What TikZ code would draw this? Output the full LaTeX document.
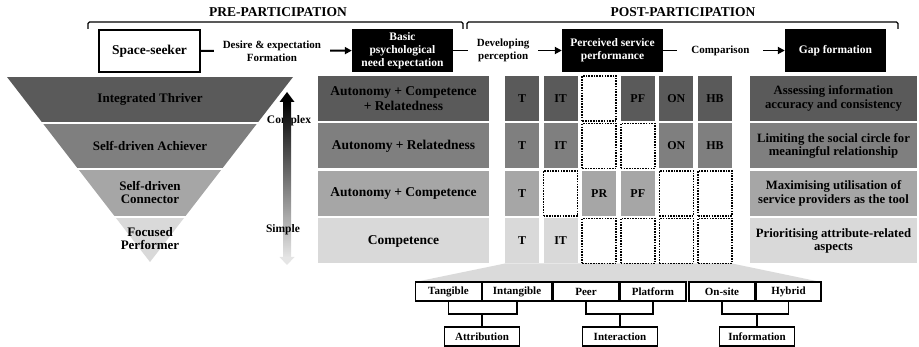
\documentclass[tikz,border=0pt]{standalone}
\usepackage{fontspec}
\setmainfont{Liberation Serif}
\usetikzlibrary{arrows.meta}
\definecolor{bandA}{HTML}{5A5A5A}
\definecolor{bandB}{HTML}{7F7F7F}
\definecolor{bandC}{HTML}{A6A6A6}
\definecolor{bandD}{HTML}{D9D9D9}
\definecolor{fanC}{HTML}{DADADA}
\begin{document}
\begin{tikzpicture}[x=1pt,y=-1pt,
  every node/.style={inner sep=0pt, align=center},
  head/.style={font=\bfseries\fontsize{13.5}{15}\selectfont},
  whitebox/.style={draw=black, line width=2pt, fill=white, minimum width=101pt, minimum height=42pt, font=\bfseries\fontsize{13.5}{15}\selectfont},
  blackbox/.style={fill=black, text=white, minimum width=101pt, minimum height=43pt, font=\bfseries\fontsize{11.5}{13}\selectfont},
  lbl/.style={fill=white, inner xsep=9pt, inner ysep=2pt, font=\bfseries\fontsize{11}{13}\selectfont},
  flow/.style={line width=1.8pt, -{Triangle[length=7pt,width=7pt]}},
  ftext/.style={font=\bfseries\fontsize{13}{13}\selectfont},
  mid/.style={minimum width=171pt, minimum height=45pt, font=\bfseries\fontsize{13.5}{15}\selectfont},
  rt/.style={minimum width=167pt, minimum height=45pt, font=\bfseries\fontsize{12.7}{13.8}\selectfont},
  cell/.style={minimum width=34pt, minimum height=45pt, font=\bfseries\fontsize{12}{13}\selectfont},
  dotcell/.style={cell, fill=white, draw=black, line width=1.6pt, dash pattern=on 1.6pt off 1.1pt},
  leaf/.style={draw=black, line width=1.3pt, fill=white, minimum height=19pt, font=\bfseries\fontsize{11}{12}\selectfont},
  tree/.style={line width=1.6pt},
  brace/.style={line width=1.3pt, rounded corners=1.5pt},
  axis/.style={font=\bfseries\fontsize{11.5}{13}\selectfont}
]
\useasboundingbox (0,0) rectangle (919,347);

% headers and brackets
\node[head] (pre) at (278,12) {PRE-PARTICIPATION};
\node[head] (post) at (683,12) {POST-PARTICIPATION};
\draw[brace] (88,29) -- (88,22) -- (463,22) -- (463,29);
\draw[brace] (467,29) -- (467,22) -- (898,22) -- (898,29);

% top process row
\node[whitebox] (ss) at (149.5,51) {Space-seeker};
\node[blackbox] (bp) at (402.5,50.5) {Basic\\psychological\\need expectation};
\node[blackbox] (ps) at (612.5,50.5) {Perceived service\\performance};
\node[blackbox] (gf) at (835.5,50.5) {Gap formation};
\draw[flow] (ss) -- node[lbl, pos=0.47] (l1) {Desire \& expectation\\Formation} (bp);
\draw[flow] (bp) -- node[lbl, pos=0.46] (l2) {Developing\\perception} (ps);
\draw[flow] (ps) -- node[lbl, pos=0.47, inner xsep=14pt] (l3) {Comparison} (gf);

% funnel
\begin{scope}
\clip (7,77) -- (293,77) -- (150,262) -- cycle;
\fill[bandA] (0,77) rectangle (300,122);
\fill[bandB] (0,124) rectangle (300,168);
\fill[bandC] (0,170) rectangle (300,216);
\fill[bandD] (0,218) rectangle (300,263);
\end{scope}
\node[ftext] (f1) at (150,99) {Integrated Thriver};
\node[ftext] (f2) at (150,146) {Self-driven Achiever};
\node[ftext] (f3) at (150,192.5) {Self-driven\\Connector};
\node[ftext] (f4) at (150,239) {Focused\\Performer};

% gradient arrow
\node[axis] (cx) at (289,121) {Complex};
\shade[top color=black, bottom color=black!10] (283,101) rectangle (291,258);
\fill[black] (287,92) -- (294.5,102) -- (279.5,102) -- cycle;
\fill[black!10] (287,265) -- (294.5,257) -- (279.5,257) -- cycle;
\node[axis] (sp) at (283,230) {Simple};

% fan under the grid
\fill[fanC] (505,263.5) -- (732,263.5) -- (821,282) -- (415,282) -- cycle;

% middle column
\node[mid, fill=bandA] (m1) at (403.5,98.5) {Autonomy + Competence\\+ Relatedness};
\node[mid, fill=bandB] (m2) at (403.5,146) {Autonomy + Relatedness};
\node[mid, fill=bandC] (m3) at (403.5,193.5) {Autonomy + Competence};
\node[mid, fill=bandD] (m4) at (403.5,241) {Competence};

% grid
\node[cell, fill=bandA] (c11) at (522,98.5) {T};
\node[cell, fill=bandA] (c12) at (560.6,98.5) {IT};
\node[dotcell] (c13) at (599.2,98.5) {};
\node[cell, fill=bandA] (c14) at (637.8,98.5) {PF};
\node[cell, fill=bandA] (c15) at (676.4,98.5) {ON};
\node[cell, fill=bandA] (c16) at (715,98.5) {HB};

\node[cell, fill=bandB] (c21) at (522,146) {T};
\node[cell, fill=bandB] (c22) at (560.6,146) {IT};
\node[dotcell] (c23) at (599.2,146) {};
\node[dotcell] (c24) at (637.8,146) {};
\node[cell, fill=bandB] (c25) at (676.4,146) {ON};
\node[cell, fill=bandB] (c26) at (715,146) {HB};

\node[cell, fill=bandC] (c31) at (522,193.5) {T};
\node[dotcell] (c32) at (560.6,193.5) {};
\node[cell, fill=bandC] (c33) at (599.2,193.5) {PR};
\node[cell, fill=bandC] (c34) at (637.8,193.5) {PF};
\node[dotcell] (c35) at (676.4,193.5) {};
\node[dotcell] (c36) at (715,193.5) {};

\node[cell, fill=bandD] (c41) at (522,241) {T};
\node[cell, fill=bandD] (c42) at (560.6,241) {IT};
\node[dotcell] (c43) at (599.2,241) {};
\node[dotcell] (c44) at (637.8,241) {};
\node[dotcell] (c45) at (676.4,241) {};
\node[dotcell] (c46) at (715,241) {};

% right column
\node[rt, fill=bandA] (g1) at (833.5,98.5) {Assessing information\\accuracy and consistency};
\node[rt, fill=bandB] (g2) at (833.5,146) {Limiting the social circle for\\meaningful relationship};
\node[rt, fill=bandC] (g3) at (833.5,193.5) {Maximising utilisation of\\service providers as the tool};
\node[rt, fill=bandD] (g4) at (833.5,241) {Prioritising attribute-related\\aspects};

% bottom tree
\node[leaf, minimum width=66pt] (tan) at (448.5,291.5) {Tangible};
\node[leaf, minimum width=69pt] (itan) at (517,291.5) {Intangible};
\node[leaf, minimum width=66pt] (peer) at (586,291.5) {Peer};
\node[leaf, minimum width=66pt] (plat) at (653,291.5) {Platform};
\node[leaf, minimum width=66pt] (onsite) at (722,291.5) {On-site};
\node[leaf, minimum width=65pt] (hyb) at (788.5,291.5) {Hybrid};

\node[leaf, minimum width=75pt] (attr) at (482,336.5) {Attribution};
\node[leaf, minimum width=75pt] (inter) at (620,336.5) {Interaction};
\node[leaf, minimum width=75pt] (info) at (757,336.5) {Information};

\coordinate (j1) at (482,314);
\coordinate (j2) at (620,314);
\coordinate (j3) at (757,314);
\draw[tree] (tan.south) |- (j1) -| (itan.south);
\draw[tree] (j1) -- (attr.north);
\draw[tree] (peer.south) |- (j2) -| (plat.south);
\draw[tree] (j2) -- (inter.north);
\draw[tree] (onsite.south) |- (j3) -| (hyb.south);
\draw[tree] (j3) -- (info.north);
\end{tikzpicture}
\end{document}
